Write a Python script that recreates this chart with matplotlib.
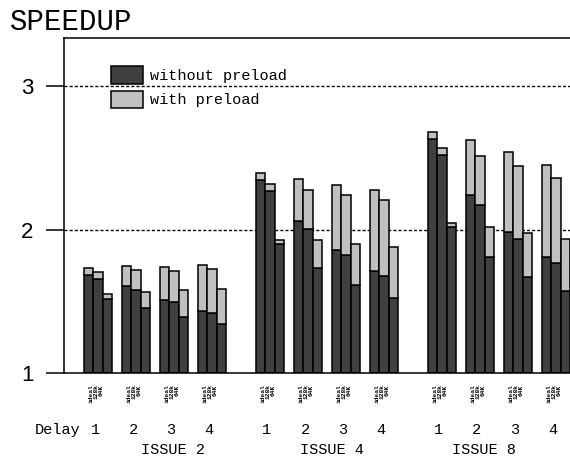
import matplotlib
matplotlib.use("Agg")
import matplotlib.pyplot as plt
import numpy as np

# ---------------- data ----------------
issues = ["ISSUE 2", "ISSUE 4", "ISSUE 8"]
delays = ["1", "2", "3", "4"]
caches = ["ideal", "128k", "64K"]

# speedup without preload (dark), per issue: delay 1..4 x (ideal, 128k, 64K)
without_issue2 = [1.685, 1.657, 1.513,  1.604, 1.581, 1.451,  1.511, 1.492, 1.390,  1.434, 1.420, 1.339]
without_issue4 = [2.345, 2.268, 1.899,  2.059, 2.006, 1.734,  1.859, 1.820, 1.613,  1.708, 1.678, 1.523]
without_issue8 = [2.628, 2.517, 2.015,  2.243, 2.168, 1.808,  1.985, 1.934, 1.667,  1.806, 1.769, 1.568]

# speedup with preload (total height)
with_issue2 = [1.732, 1.701, 1.551,  1.748, 1.718, 1.562,  1.741, 1.713, 1.576,  1.750, 1.722, 1.583]
with_issue4 = [2.396, 2.315, 1.929,  2.350, 2.273, 1.925,  2.310, 2.240, 1.901,  2.273, 2.206, 1.880]
with_issue8 = [2.679, 2.566, 2.045,  2.621, 2.510, 2.015,  2.538, 2.440, 1.978,  2.447, 2.359, 1.932]

without_all = [without_issue2, without_issue4, without_issue8]
with_all = [with_issue2, with_issue4, with_issue8]

yticks = [1, 2, 3]

# ---------------- layout ----------------
W, H = 570, 459
PX = 9.5                    # pixels per x unit (one bar width)
ax_left_px, ax_right_px = 64, 600
ax_top_px, ax_bot_px = 38, 373
first_bar = 2.105
group_pitch = 4.0
issue_pitch = 18.1
label_offsets = [0.72, 1.27, 1.82]
delay_label_off = 1.16
issue_label_x = [11.5, 28.18, 44.2]

dark = "#404040"
light = "#c0c0c0"
mono = "Liberation Mono"

fig = plt.figure(figsize=(W / 100, H / 100), dpi=100)
ax = fig.add_axes([ax_left_px / W, (H - ax_bot_px) / H,
                   (ax_right_px - ax_left_px) / W, (ax_bot_px - ax_top_px) / H])

ax.set_xlim(0, (ax_right_px - ax_left_px) / PX)
ymax = 1 + (ax_bot_px - ax_top_px) / 143.5
ax.set_ylim(1, ymax)

xt = ax.get_xaxis_transform()
h_dark = h_light = None
for i in range(len(issues)):
    for d in range(len(delays)):
        gx = first_bar + i * issue_pitch + d * group_pitch
        for k in range(len(caches)):
            idx = d * 3 + k
            lo = without_all[i][idx]
            hi = with_all[i][idx]
            x = gx + k
            h_dark = ax.bar(x, lo - 1, bottom=1, width=1, align="edge",
                            color=dark, edgecolor="black", linewidth=1.1, zorder=2)
            h_light = ax.bar(x, hi - lo, bottom=lo, width=1, align="edge",
                             color=light, edgecolor="black", linewidth=1.1, zorder=2)
            ax.text(gx + label_offsets[k], -0.034, caches[k], transform=xt,
                    rotation=90, ha="center", va="top", fontsize=4.5,
                    fontweight="bold", family=mono)
        ax.text(gx + delay_label_off, -0.170, delays[d], transform=xt,
                ha="center", va="center", fontsize=11, family=mono)
    ax.text(issue_label_x[i], -0.230, issues[i], transform=xt,
            ha="center", va="center", fontsize=11, family=mono)

fig.text(80 / W, 1 - 430 / H, "Delay", ha="right", va="center",
         fontsize=11, family=mono)

# dotted reference lines
for yv in yticks[1:]:
    ax.axhline(yv, color="black", linewidth=1.0, dashes=(2.2, 1.5), zorder=1)

# axes styling
for s in ["left", "top", "bottom"]:
    ax.spines[s].set_linewidth(1.1)
ax.spines["right"].set_visible(False)
ax.set_xticks([])
ax.set_yticks(yticks)
ax.set_yticklabels([str(v) for v in yticks], family="Liberation Sans")
ax.tick_params(axis="y", length=13, width=1.1, pad=9, labelsize=16)

# legend
leg = ax.legend([h_dark, h_light], ["without preload", "with preload"],
                loc="upper left", bbox_to_anchor=(111 / W, 1 - 66.5 / H),
                bbox_transform=fig.transFigure, frameon=False,
                borderpad=0, borderaxespad=0, handlelength=2.1,
                handleheight=1.4, labelspacing=0.42, handletextpad=0.45,
                prop={"family": mono, "size": 11})

fig.text(10 / W, 1 - 21.5 / H, "SPEEDUP", ha="left", va="center",
         fontsize=21, family=mono)

fig.savefig("out.png", dpi=100)
